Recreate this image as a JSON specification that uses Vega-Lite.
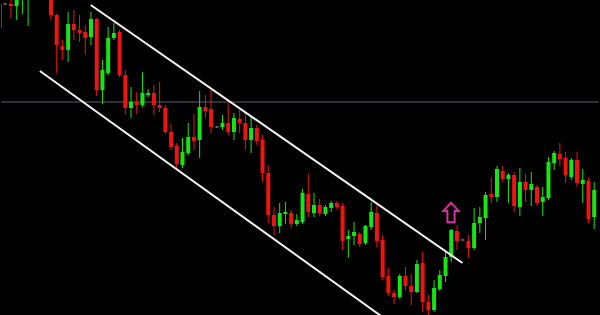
{
  "$schema": "https://vega.github.io/schema/vega-lite/v6.json",
  "width": 600,
  "height": 315,
  "autosize": {"type": "fit", "contains": "padding"},
  "padding": 0,
  "background": "#000000",
  "config": {"view": {"stroke": null}},
  "datasets": {
    "candles": [
      {"i": 0, "o": 1.3372, "h": 1.3397, "l": 1.3368, "c": 1.3396},
      {"i": 1, "o": 1.3396, "h": 1.3397, "l": 1.3395, "c": 1.3396},
      {"i": 2, "o": 1.3396, "h": 1.3405, "l": 1.3382, "c": 1.3394},
      {"i": 3, "o": 1.3394, "h": 1.3408, "l": 1.3380, "c": 1.3403},
      {"i": 4, "o": 1.3402, "h": 1.3420, "l": 1.3386, "c": 1.3415},
      {"i": 5, "o": 1.3401, "h": 1.3418, "l": 1.3374, "c": 1.3412},
      {"i": 9, "o": 1.3403, "h": 1.3406, "l": 1.3380, "c": 1.3385},
      {"i": 10, "o": 1.3385, "h": 1.3386, "l": 1.3327, "c": 1.3355},
      {"i": 11, "o": 1.3354, "h": 1.3360, "l": 1.3340, "c": 1.3350},
      {"i": 12, "o": 1.3350, "h": 1.3388, "l": 1.3338, "c": 1.3376},
      {"i": 13, "o": 1.3376, "h": 1.3390, "l": 1.3360, "c": 1.3370},
      {"i": 14, "o": 1.3370, "h": 1.3385, "l": 1.3358, "c": 1.3367},
      {"i": 15, "o": 1.3368, "h": 1.3375, "l": 1.3345, "c": 1.3362},
      {"i": 16, "o": 1.3363, "h": 1.3388, "l": 1.3355, "c": 1.3381},
      {"i": 17, "o": 1.3381, "h": 1.3382, "l": 1.3304, "c": 1.3310},
      {"i": 18, "o": 1.3310, "h": 1.3340, "l": 1.3296, "c": 1.3330},
      {"i": 19, "o": 1.3327, "h": 1.3373, "l": 1.3325, "c": 1.3362},
      {"i": 20, "o": 1.3362, "h": 1.3377, "l": 1.3360, "c": 1.3367},
      {"i": 21, "o": 1.3368, "h": 1.3370, "l": 1.3323, "c": 1.3325},
      {"i": 22, "o": 1.3325, "h": 1.3330, "l": 1.3286, "c": 1.3292},
      {"i": 23, "o": 1.3292, "h": 1.3313, "l": 1.3282, "c": 1.3298},
      {"i": 24, "o": 1.3298, "h": 1.3308, "l": 1.3286, "c": 1.3295},
      {"i": 25, "o": 1.3295, "h": 1.3328, "l": 1.3293, "c": 1.3307},
      {"i": 26, "o": 1.3305, "h": 1.3311, "l": 1.3303, "c": 1.3307},
      {"i": 27, "o": 1.3307, "h": 1.3315, "l": 1.3285, "c": 1.3295},
      {"i": 28, "o": 1.3295, "h": 1.3318, "l": 1.3288, "c": 1.3292},
      {"i": 29, "o": 1.3292, "h": 1.3295, "l": 1.3266, "c": 1.3268},
      {"i": 30, "o": 1.3268, "h": 1.3276, "l": 1.3250, "c": 1.3253},
      {"i": 31, "o": 1.3254, "h": 1.3257, "l": 1.3230, "c": 1.3236},
      {"i": 32, "o": 1.3235, "h": 1.3262, "l": 1.3232, "c": 1.3248},
      {"i": 33, "o": 1.3247, "h": 1.3277, "l": 1.3245, "c": 1.3263},
      {"i": 34, "o": 1.3263, "h": 1.3286, "l": 1.3250, "c": 1.3259},
      {"i": 35, "o": 1.3260, "h": 1.3309, "l": 1.3242, "c": 1.3293},
      {"i": 36, "o": 1.3293, "h": 1.3305, "l": 1.3282, "c": 1.3289},
      {"i": 37, "o": 1.3291, "h": 1.3311, "l": 1.3267, "c": 1.3273},
      {"i": 38, "o": 1.3273, "h": 1.3274, "l": 1.3272, "c": 1.3273},
      {"i": 39, "o": 1.3273, "h": 1.3285, "l": 1.3270, "c": 1.3277},
      {"i": 40, "o": 1.3277, "h": 1.3297, "l": 1.3265, "c": 1.3268},
      {"i": 41, "o": 1.3268, "h": 1.3287, "l": 1.3260, "c": 1.3282},
      {"i": 42, "o": 1.3281, "h": 1.3290, "l": 1.3267, "c": 1.3277},
      {"i": 43, "o": 1.3277, "h": 1.3289, "l": 1.3250, "c": 1.3260},
      {"i": 44, "o": 1.3260, "h": 1.3283, "l": 1.3247, "c": 1.3272},
      {"i": 45, "o": 1.3272, "h": 1.3275, "l": 1.3255, "c": 1.3259},
      {"i": 46, "o": 1.3260, "h": 1.3265, "l": 1.3218, "c": 1.3227},
      {"i": 47, "o": 1.3227, "h": 1.3235, "l": 1.3177, "c": 1.3185},
      {"i": 48, "o": 1.3185, "h": 1.3193, "l": 1.3165, "c": 1.3174},
      {"i": 49, "o": 1.3174, "h": 1.3197, "l": 1.3167, "c": 1.3187},
      {"i": 50, "o": 1.3186, "h": 1.3198, "l": 1.3176, "c": 1.3188},
      {"i": 51, "o": 1.3187, "h": 1.3190, "l": 1.3172, "c": 1.3176},
      {"i": 52, "o": 1.3176, "h": 1.3186, "l": 1.3174, "c": 1.3180},
      {"i": 53, "o": 1.3178, "h": 1.3211, "l": 1.3176, "c": 1.3207},
      {"i": 54, "o": 1.3206, "h": 1.3226, "l": 1.3183, "c": 1.3188},
      {"i": 55, "o": 1.3187, "h": 1.3207, "l": 1.3183, "c": 1.3195},
      {"i": 56, "o": 1.3195, "h": 1.3201, "l": 1.3184, "c": 1.3187},
      {"i": 57, "o": 1.3186, "h": 1.3195, "l": 1.3184, "c": 1.3193},
      {"i": 58, "o": 1.3192, "h": 1.3199, "l": 1.3188, "c": 1.3197},
      {"i": 59, "o": 1.3197, "h": 1.3199, "l": 1.3191, "c": 1.3193},
      {"i": 60, "o": 1.3194, "h": 1.3197, "l": 1.3150, "c": 1.3159},
      {"i": 61, "o": 1.3161, "h": 1.3170, "l": 1.3142, "c": 1.3164},
      {"i": 62, "o": 1.3164, "h": 1.3178, "l": 1.3155, "c": 1.3168},
      {"i": 63, "o": 1.3166, "h": 1.3168, "l": 1.3153, "c": 1.3156},
      {"i": 64, "o": 1.3157, "h": 1.3175, "l": 1.3155, "c": 1.3174},
      {"i": 65, "o": 1.3173, "h": 1.3198, "l": 1.3170, "c": 1.3188},
      {"i": 66, "o": 1.3187, "h": 1.3195, "l": 1.3153, "c": 1.3159},
      {"i": 67, "o": 1.3160, "h": 1.3165, "l": 1.3120, "c": 1.3123},
      {"i": 68, "o": 1.3124, "h": 1.3132, "l": 1.3104, "c": 1.3107},
      {"i": 69, "o": 1.3107, "h": 1.3110, "l": 1.3096, "c": 1.3103},
      {"i": 70, "o": 1.3103, "h": 1.3126, "l": 1.3101, "c": 1.3124},
      {"i": 71, "o": 1.3124, "h": 1.3133, "l": 1.3110, "c": 1.3114},
      {"i": 72, "o": 1.3114, "h": 1.3126, "l": 1.3095, "c": 1.3108},
      {"i": 73, "o": 1.3108, "h": 1.3140, "l": 1.3107, "c": 1.3136},
      {"i": 74, "o": 1.3137, "h": 1.3148, "l": 1.3088, "c": 1.3098},
      {"i": 75, "o": 1.3098, "h": 1.3105, "l": 1.3085, "c": 1.3090},
      {"i": 76, "o": 1.3090, "h": 1.3120, "l": 1.3088, "c": 1.3112},
      {"i": 77, "o": 1.3111, "h": 1.3130, "l": 1.3109, "c": 1.3125},
      {"i": 78, "o": 1.3124, "h": 1.3148, "l": 1.3118, "c": 1.3143},
      {"i": 79, "o": 1.3143, "h": 1.3171, "l": 1.3138, "c": 1.3170},
      {"i": 80, "o": 1.3169, "h": 1.3175, "l": 1.3150, "c": 1.3159},
      {"i": 81, "o": 1.3160, "h": 1.3161, "l": 1.3159, "c": 1.3160},
      {"i": 82, "o": 1.3159, "h": 1.3165, "l": 1.3142, "c": 1.3152},
      {"i": 83, "o": 1.3152, "h": 1.3192, "l": 1.3150, "c": 1.3177},
      {"i": 84, "o": 1.3177, "h": 1.3193, "l": 1.3167, "c": 1.3183},
      {"i": 85, "o": 1.3182, "h": 1.3208, "l": 1.3160, "c": 1.3205},
      {"i": 86, "o": 1.3206, "h": 1.3223, "l": 1.3197, "c": 1.3203},
      {"i": 87, "o": 1.3203, "h": 1.3234, "l": 1.3198, "c": 1.3231},
      {"i": 88, "o": 1.3229, "h": 1.3234, "l": 1.3218, "c": 1.3221},
      {"i": 89, "o": 1.3221, "h": 1.3227, "l": 1.3197, "c": 1.3225},
      {"i": 90, "o": 1.3225, "h": 1.3228, "l": 1.3188, "c": 1.3194},
      {"i": 91, "o": 1.3193, "h": 1.3232, "l": 1.3184, "c": 1.3218},
      {"i": 92, "o": 1.3218, "h": 1.3226, "l": 1.3198, "c": 1.3210},
      {"i": 93, "o": 1.3210, "h": 1.3228, "l": 1.3194, "c": 1.3216},
      {"i": 94, "o": 1.3213, "h": 1.3215, "l": 1.3194, "c": 1.3197},
      {"i": 95, "o": 1.3198, "h": 1.3213, "l": 1.3184, "c": 1.3203},
      {"i": 96, "o": 1.3202, "h": 1.3243, "l": 1.3200, "c": 1.3238},
      {"i": 97, "o": 1.3237, "h": 1.3249, "l": 1.3230, "c": 1.3247},
      {"i": 98, "o": 1.3246, "h": 1.3257, "l": 1.3234, "c": 1.3241},
      {"i": 99, "o": 1.3242, "h": 1.3248, "l": 1.3217, "c": 1.3225},
      {"i": 100, "o": 1.3223, "h": 1.3242, "l": 1.3220, "c": 1.3240},
      {"i": 101, "o": 1.3240, "h": 1.3248, "l": 1.3213, "c": 1.3217},
      {"i": 102, "o": 1.3216, "h": 1.3231, "l": 1.3197, "c": 1.3220},
      {"i": 103, "o": 1.3219, "h": 1.3222, "l": 1.3177, "c": 1.3181},
      {"i": 104, "o": 1.3183, "h": 1.3218, "l": 1.3171, "c": 1.3210}
    ],
    "channel": [
      {"edge": "upper", "i1": 15.95, "p1": 1.3395, "i2": 80.96, "p2": 1.3137},
      {"edge": "lower", "i1": 7.06, "p1": 1.3329, "i2": 67.7, "p2": 1.3080}
    ],
    "level": [{"p": 1.3298}],
    "signal": [{"i": 78.96, "p": 1.31875}]
  },
  "layer": [
    {
      "data": {"name": "level"},
      "mark": {"type": "rule", "color": "#5c5c72", "strokeWidth": 1},
      "encoding": {
        "y": {"field": "p", "type": "quantitative", "axis": null,
              "scale": {"domain": [1.3085, 1.34], "nice": false, "zero": false}}
      }
    },
    {
      "data": {"name": "candles"},
      "mark": {"type": "rule", "strokeWidth": 1, "clip": true},
      "encoding": {
        "x": {"field": "i", "type": "quantitative", "axis": null,
              "scale": {"domain": [0.2615, 104.84], "nice": false, "zero": false, "padding": 0}},
        "y": {"field": "h", "type": "quantitative", "axis": null},
        "y2": {"field": "l"},
        "color": {
          "condition": [
            {"test": "datum.c > datum.o", "value": "#14e614"},
            {"test": "datum.c < datum.o", "value": "#ee1414"}
          ],
          "value": "#8a8a8a"
        }
      }
    },
    {
      "data": {"name": "candles"},
      "mark": {"type": "bar", "size": 4, "clip": true},
      "encoding": {
        "x": {"field": "i", "type": "quantitative", "axis": null},
        "y": {"field": "o", "type": "quantitative", "axis": null},
        "y2": {"field": "c"},
        "color": {
          "condition": [
            {"test": "datum.c > datum.o", "value": "#14e614"},
            {"test": "datum.c < datum.o", "value": "#ee1414"}
          ],
          "value": "#8a8a8a"
        }
      }
    },
    {
      "data": {"name": "candles"},
      "transform": [{"filter": "datum.o == datum.c"}],
      "mark": {"type": "tick", "orient": "horizontal", "size": 4, "thickness": 1, "color": "#8a8a8a", "clip": true},
      "encoding": {
        "x": {"field": "i", "type": "quantitative", "axis": null},
        "y": {"field": "o", "type": "quantitative", "axis": null}
      }
    },
    {
      "data": {"name": "channel"},
      "mark": {"type": "rule", "color": "#f2f2f2", "strokeWidth": 2, "clip": true},
      "encoding": {
        "x": {"field": "i1", "type": "quantitative", "axis": null},
        "x2": {"field": "i2"},
        "y": {"field": "p1", "type": "quantitative", "axis": null},
        "y2": {"field": "p2"}
      }
    },
    {
      "data": {"name": "signal"},
      "mark": {
        "type": "point",
        "shape": "M0,-1L0.78,-0.16L0.37,-0.16L0.37,1L-0.37,1L-0.37,-0.16L-0.78,-0.16Z",
        "size": 380,
        "filled": false,
        "stroke": "#d6309e",
        "strokeWidth": 2,
        "opacity": 1
      },
      "encoding": {
        "x": {"field": "i", "type": "quantitative", "axis": null},
        "y": {"field": "p", "type": "quantitative", "axis": null}
      }
    }
  ]
}
